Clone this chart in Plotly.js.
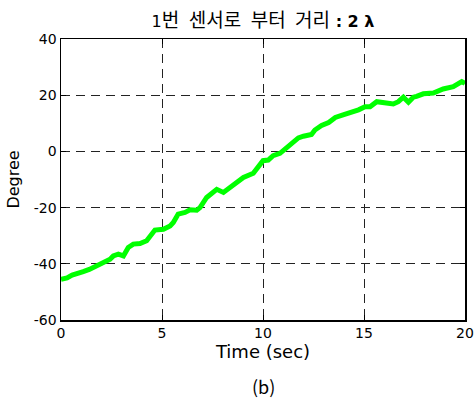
<!DOCTYPE html>
<html>
<head>
<meta charset="utf-8">
<script src="https://cdn.plot.ly/plotly-3.0.1.min.js"></script>
<style>html,body{margin:0;padding:0;background:#fff;}#chart{width:475px;height:400px;}</style>
</head>
<body>
<div id="chart"></div>
<script>
const timeSec = [0, 0.3, 0.55, 0.95, 1.1, 1.4, 1.77, 2.0, 2.26, 2.43, 2.59, 2.84, 3.09, 3.33, 3.58, 3.91, 4.24, 4.45, 4.65, 5.07, 5.4, 5.56, 5.8, 6.14, 6.39, 6.72, 6.88, 7.21, 7.54, 7.71, 8.04, 8.37, 8.7, 9.03, 9.52, 9.77, 10.0, 10.26, 10.5, 10.84, 11.17, 11.5, 11.75, 12.0, 12.4, 12.57, 12.9, 13.25, 13.58, 14.0, 14.39, 14.73, 15.05, 15.3, 15.63, 16.04, 16.45, 16.7, 16.95, 17.2, 17.44, 17.6, 17.94, 18.43, 18.92, 19.42, 19.84, 20.0];
const degree = [-45.5, -45, -44, -43.3, -42.8, -42, -40.7, -40, -38.6, -38.4, -37.2, -36.6, -37.2, -34.2, -33, -32.8, -31.8, -30, -28, -27.7, -26.5, -25.3, -22.3, -21.7, -20.8, -20.9, -20, -16.4, -14.4, -13.5, -14.6, -13, -11.4, -9.3, -7.8, -5.7, -3.3, -3.1, -1.5, -0.7, 1.4, 3.2, 4.8, 5.4, 6.0, 7.6, 9.2, 10.3, 12.1, 13.1, 13.9, 14.8, 15.9, 15.9, 17.7, 17.5, 16.9, 17.7, 19.3, 17.5, 19.3, 19.6, 20.5, 20.8, 22.2, 23, 24.8, 24.2];
const xTicks = [0, 5, 10, 15, 20];
const yTicks = [-60, -40, -20, 0, 20, 40];
const titleText = '<span style="font-family:DejaVu Sans;font-size:16px">1</span>번\u2002센서로\u2002부터\u2002거리<span style="font-family:DejaVu Sans;font-size:16px;font-weight:bold"> : 2 λ</span>';
const xTitle = 'Time (sec)';
const yTitle = 'Degree';
const subLabel = '(b)';

const sansFont = 'DejaVu Sans, sans-serif';

const axisCommon = {
  showline: true, linecolor: '#000', linewidth: 1.5, mirror: 'ticks',
  ticks: 'inside', ticklen: 5, tickwidth: 1, tickcolor: '#000',
  showgrid: true, gridcolor: '#222', gridwidth: 1, griddash: '9px,6px',
  zeroline: false,
  tickfont: {family: sansFont, size: 14, color: '#000'}
};

const trace = {
  x: timeSec, y: degree, type: 'scatter', mode: 'lines',
  line: {color: '#00ff00', width: 5},
  hoverinfo: 'skip'
};

const layout = {
  width: 475, height: 400,
  margin: {l: 61, r: 10, t: 39, b: 80},
  paper_bgcolor: '#fff', plot_bgcolor: '#fff',
  showlegend: false,
  title: {text: titleText, x: 0.5, xref: 'paper', y: 0.95, yref: 'container', yanchor: 'middle',
          font: {family: 'Noto Sans CJK KR, sans-serif', size: 19, color: '#000'}},
  xaxis: Object.assign({}, axisCommon, {
    range: [0, 20], tickvals: xTicks, ticktext: xTicks.map(String),
    title: {text: xTitle, standoff: 4, font: {family: sansFont, size: 18, color: '#000'}}
  }),
  yaxis: Object.assign({}, axisCommon, {
    range: [-60, 40], tickvals: yTicks, ticktext: yTicks.map(String),
    title: {text: yTitle, standoff: 10, font: {family: sansFont, size: 16, color: '#000'}}
  }),
  annotations: [{
    text: subLabel, xref: 'paper', yref: 'paper', x: 0.5, y: -0.236, yanchor: 'middle',
    showarrow: false, font: {family: 'Noto Sans CJK KR, sans-serif', size: 18, color: '#000'}
  }]
};

Plotly.newPlot('chart', [trace], layout, {displayModeBar: false, staticPlot: true});
</script>
</body>
</html>
